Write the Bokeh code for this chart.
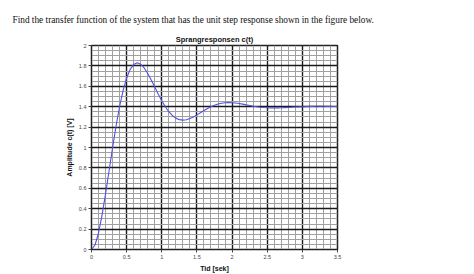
from bokeh.plotting import figure
from bokeh.models import FixedTicker, Title, ColumnDataSource
from bokeh.embed import file_html
from bokeh.resources import INLINE

# ---- data ----
t_sec = [0.00, 0.05, 0.10, 0.15, 0.20, 0.25, 0.30, 0.35, 0.40, 0.45,
         0.50, 0.55, 0.60, 0.65, 0.70, 0.75, 0.80, 0.85, 0.90, 0.95,
         1.00, 1.05, 1.10, 1.15, 1.20, 1.25, 1.30, 1.35, 1.40, 1.45,
         1.50, 1.55, 1.60, 1.65, 1.70, 1.75, 1.80, 1.85, 1.90, 1.95,
         2.00, 2.05, 2.10, 2.15, 2.20, 2.25, 2.30, 2.35, 2.40, 2.45,
         2.50, 2.55, 2.60, 2.65, 2.70, 2.75, 2.80, 2.85, 2.90, 2.95,
         3.00, 3.05, 3.10, 3.15, 3.20, 3.25, 3.30, 3.35, 3.40, 3.45, 3.50]
c_volt = [0.000, 0.044, 0.162, 0.337, 0.545, 0.772, 0.999, 1.213, 1.402, 1.560,
          1.682, 1.766, 1.814, 1.830, 1.816, 1.780, 1.726, 1.662, 1.593, 1.523,
          1.458, 1.399, 1.351, 1.314, 1.288, 1.273, 1.268, 1.272, 1.284, 1.300,
          1.320, 1.341, 1.362, 1.382, 1.400, 1.415, 1.427, 1.434, 1.439, 1.441,
          1.439, 1.436, 1.431, 1.425, 1.418, 1.412, 1.405, 1.400, 1.395, 1.392,
          1.390, 1.388, 1.388, 1.388, 1.389, 1.391, 1.392, 1.394, 1.397, 1.398,
          1.400, 1.401, 1.403, 1.403, 1.404, 1.404, 1.404, 1.403, 1.403, 1.402, 1.402]

x_ticks = [0, 0.5, 1, 1.5, 2, 2.5, 3, 3.5]
x_tick_labels = ["0", "0.5", "1", "1.5", "2", "2.5", "3", "3.5"]
x_minor = [i / 10 for i in range(0, 36)]
y_ticks = [0, 0.2, 0.4, 0.6, 0.8, 1, 1.2, 1.4, 1.6, 1.8, 2]
y_tick_labels = ["0", "0.2", "0.4", "0.6", "0.8", "1", "1.2", "1.4", "1.6", "1.8", "2"]
y_minor = [i / 20 for i in range(0, 41)]

question = "Find the transfer function of the system that has the unit step response shown in the figure below."
chart_title = "Sprangresponsen c(t)"
x_label = "Tid [sek]"
y_label = "Amplitude c(t) [V]"

src = ColumnDataSource(dict(t=t_sec, c=c_volt))

p = figure(width=474, height=274, output_backend="svg", toolbar_location=None,
           x_range=(0, 3.5), y_range=(0, 2),
           min_border_left=91, min_border_right=137, min_border_top=45, min_border_bottom=24)
p.background_fill_color = "white"
p.border_fill_color = "white"
p.outline_line_color = "#222222"
p.outline_line_width = 1.5

# outer title: the question
p.title.text = question
p.title.align = "left"
p.title.offset = -79
p.title.text_font = "Liberation Serif"
p.title.text_font_style = "normal"
p.title.text_font_size = "9.3px"
p.title.text_color = "#111111"
p.title.standoff = 14

# inner title: chart title
ct = Title(text=chart_title, align="center", text_font="Liberation Sans",
           text_font_size="7.5px", text_font_style="bold", text_color="#111111", standoff=3)
p.add_layout(ct, "above")

p.xaxis.ticker = FixedTicker(ticks=x_ticks, minor_ticks=x_minor)
p.yaxis.ticker = FixedTicker(ticks=y_ticks, minor_ticks=y_minor)
p.xaxis.major_label_overrides = dict(zip(x_ticks, x_tick_labels))
p.yaxis.major_label_overrides = dict(zip(y_ticks, y_tick_labels))

for ax in (p.xaxis, p.yaxis):
    ax.axis_line_color = "#222222"
    ax.major_tick_out = 3
    ax.major_tick_in = 0
    ax.minor_tick_out = 0
    ax.minor_tick_in = 0
    ax.major_tick_line_color = "#444444"
    ax.major_label_text_font = "Liberation Sans"
    ax.major_label_text_font_size = "5.5px"
    ax.major_label_text_color = "#444444"
    ax.major_label_standoff = 2
    ax.axis_label_text_font = "Liberation Sans"
    ax.axis_label_text_font_style = "bold"
    ax.axis_label_text_font_size = "7px"
    ax.axis_label_text_color = "#111111"
    ax.axis_label_standoff = 3

p.xaxis.axis_label = x_label
p.yaxis.axis_label = y_label

for g in (p.xgrid, p.ygrid):
    g.grid_line_color = "#1a1a1a"
    g.grid_line_width = 1.4
    g.grid_line_alpha = 1
    g.minor_grid_line_color = "#a0a0a0"
    g.minor_grid_line_width = 1
    g.level = "underlay"

p.line("t", "c", source=src, line_color="#5252e0", line_width=1.1)

open("out.html", "w").write(file_html(p, INLINE))
